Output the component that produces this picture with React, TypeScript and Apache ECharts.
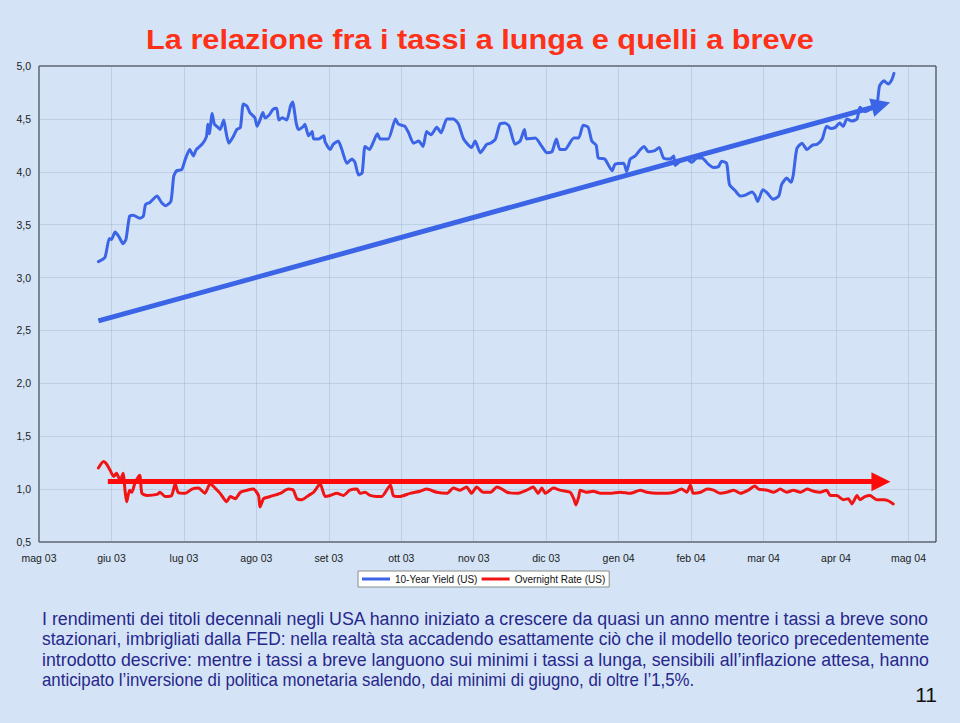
import React, { useEffect, useRef } from 'react';
import * as echarts from 'echarts';

// ---------- data (x = months since May 2003, y = %) ----------
const monthLabels = ['mag 03', 'giu 03', 'lug 03', 'ago 03', 'set 03', 'ott 03', 'nov 03', 'dic 03', 'gen 04', 'feb 04', 'mar 04', 'apr 04', 'mag 04'];

const seriesNames = ['10-Year Yield (US)', 'Overnight Rate (US)'];

const tenYearYield: [number, number][] = [
  [0.82, 3.15], [0.91, 3.19], [0.97, 3.37], [1.00, 3.36], [1.05, 3.43], [1.10, 3.39], [1.16, 3.32], [1.20, 3.36],
  [1.25, 3.58], [1.30, 3.59], [1.39, 3.56], [1.44, 3.58], [1.47, 3.69], [1.53, 3.71], [1.63, 3.77], [1.69, 3.71],
  [1.75, 3.68], [1.82, 3.72], [1.86, 3.96], [1.90, 4.01], [1.97, 4.02], [2.02, 4.12], [2.08, 4.21], [2.13, 4.15],
  [2.17, 4.21], [2.25, 4.26], [2.31, 4.33], [2.33, 4.45], [2.35, 4.36], [2.39, 4.55], [2.42, 4.45], [2.47, 4.42],
  [2.50, 4.40], [2.55, 4.49], [2.58, 4.38], [2.62, 4.27], [2.68, 4.33], [2.73, 4.40], [2.78, 4.42], [2.82, 4.64],
  [2.87, 4.62], [2.91, 4.56], [2.98, 4.51], [3.01, 4.43], [3.05, 4.49], [3.09, 4.56], [3.12, 4.51], [3.18, 4.54],
  [3.23, 4.59], [3.28, 4.60], [3.31, 4.49], [3.36, 4.51], [3.42, 4.49], [3.47, 4.62], [3.50, 4.66], [3.55, 4.46],
  [3.58, 4.40], [3.65, 4.43], [3.67, 4.45], [3.72, 4.34], [3.77, 4.38], [3.79, 4.31], [3.86, 4.31], [3.93, 4.34],
  [3.95, 4.28], [4.02, 4.21], [4.06, 4.26], [4.13, 4.29], [4.18, 4.21], [4.25, 4.08], [4.32, 4.12], [4.36, 4.09],
  [4.41, 3.97], [4.46, 3.99], [4.50, 4.24], [4.56, 4.21], [4.62, 4.29], [4.67, 4.36], [4.71, 4.31], [4.82, 4.31],
  [4.92, 4.50], [4.96, 4.45], [5.05, 4.43], [5.10, 4.37], [5.17, 4.27], [5.24, 4.29], [5.30, 4.24], [5.35, 4.38],
  [5.41, 4.35], [5.49, 4.42], [5.55, 4.37], [5.63, 4.50], [5.72, 4.50], [5.79, 4.45], [5.86, 4.31], [5.97, 4.23],
  [6.02, 4.29], [6.09, 4.18], [6.18, 4.26], [6.23, 4.27], [6.30, 4.31], [6.36, 4.45], [6.43, 4.46], [6.49, 4.43],
  [6.57, 4.26], [6.64, 4.29], [6.70, 4.40], [6.73, 4.31], [6.85, 4.32], [6.94, 4.24], [7.01, 4.18], [7.08, 4.19],
  [7.14, 4.31], [7.19, 4.21], [7.26, 4.21], [7.38, 4.32], [7.45, 4.32], [7.51, 4.44], [7.58, 4.42], [7.63, 4.29],
  [7.69, 4.25], [7.72, 4.13], [7.81, 4.12], [7.91, 4.01], [7.95, 4.07], [8.07, 4.08], [8.11, 4.00], [8.16, 4.12],
  [8.23, 4.15], [8.30, 4.21], [8.35, 4.24], [8.41, 4.19], [8.50, 4.20], [8.56, 4.23], [8.62, 4.13], [8.71, 4.12],
  [8.76, 4.15], [8.78, 4.06], [8.85, 4.10], [8.94, 4.12], [9.01, 4.09], [9.08, 4.13], [9.15, 4.13], [9.24, 4.07],
  [9.31, 4.04], [9.38, 4.05], [9.42, 4.10], [9.49, 4.08], [9.53, 3.88], [9.61, 3.82], [9.68, 3.77], [9.75, 3.78],
  [9.84, 3.81], [9.88, 3.78], [9.92, 3.72], [9.99, 3.83], [10.05, 3.80], [10.13, 3.74], [10.21, 3.77], [10.25, 3.88],
  [10.32, 3.94], [10.38, 3.90], [10.41, 3.97], [10.46, 4.22], [10.53, 4.27], [10.60, 4.21], [10.67, 4.25], [10.74, 4.26],
  [10.81, 4.31], [10.87, 4.43], [10.93, 4.41], [10.99, 4.42], [11.05, 4.46], [11.10, 4.43], [11.15, 4.50], [11.22, 4.48],
  [11.29, 4.50], [11.33, 4.61], [11.40, 4.57], [11.47, 4.59], [11.56, 4.62], [11.60, 4.81], [11.66, 4.86], [11.72, 4.83],
  [11.77, 4.87], [11.80, 4.93],
];

const overnightRate: [number, number][] = [
  [0.82, 1.20], [0.89, 1.26], [0.93, 1.24], [0.98, 1.18], [1.03, 1.12], [1.07, 1.15], [1.12, 1.08], [1.16, 1.15],
  [1.19, 0.97], [1.21, 0.88], [1.25, 0.99], [1.28, 0.97], [1.33, 1.07], [1.39, 1.13], [1.42, 0.96], [1.49, 0.94],
  [1.63, 0.95], [1.67, 0.97], [1.74, 0.93], [1.83, 0.94], [1.88, 1.05], [1.92, 0.97], [2.02, 0.96], [2.11, 1.00],
  [2.20, 1.01], [2.29, 0.96], [2.36, 1.05], [2.43, 1.01], [2.50, 0.96], [2.59, 0.88], [2.64, 0.93], [2.71, 0.91],
  [2.78, 0.97], [2.87, 0.99], [2.96, 1.00], [3.03, 0.94], [3.05, 0.83], [3.10, 0.91], [3.19, 0.93], [3.33, 0.96],
  [3.44, 1.00], [3.51, 0.99], [3.56, 0.91], [3.63, 0.90], [3.72, 0.94], [3.79, 0.97], [3.88, 1.05], [3.95, 0.93],
  [4.02, 0.94], [4.11, 0.96], [4.20, 0.94], [4.29, 0.99], [4.39, 1.00], [4.43, 0.96], [4.50, 0.97], [4.57, 0.94],
  [4.66, 0.93], [4.73, 0.93], [4.85, 1.04], [4.89, 0.94], [4.98, 0.93], [5.12, 0.96], [5.26, 0.98], [5.35, 1.00],
  [5.49, 0.97], [5.63, 0.96], [5.72, 1.01], [5.81, 0.99], [5.90, 1.02], [5.97, 0.96], [6.04, 1.02], [6.13, 0.97],
  [6.23, 0.97], [6.32, 1.02], [6.39, 1.00], [6.46, 0.97], [6.60, 0.96], [6.73, 0.99], [6.82, 1.02], [6.89, 0.96],
  [6.94, 1.01], [6.99, 0.96], [7.10, 1.01], [7.19, 0.99], [7.33, 0.97], [7.38, 0.91], [7.41, 0.85], [7.45, 0.93],
  [7.47, 0.99], [7.56, 0.97], [7.65, 0.98], [7.75, 0.96], [7.88, 0.96], [8.02, 0.97], [8.16, 0.96], [8.30, 0.99],
  [8.39, 0.97], [8.53, 0.96], [8.67, 0.96], [8.76, 0.97], [8.87, 1.00], [8.94, 0.97], [8.99, 1.04], [9.03, 0.96],
  [9.13, 0.97], [9.22, 1.00], [9.31, 0.99], [9.40, 0.96], [9.49, 0.97], [9.59, 0.99], [9.68, 0.96], [9.79, 0.99],
  [9.88, 1.03], [9.93, 1.00], [10.05, 0.99], [10.14, 0.97], [10.23, 1.00], [10.32, 0.97], [10.41, 0.99], [10.51, 0.97],
  [10.60, 1.00], [10.69, 0.98], [10.78, 0.97], [10.87, 0.99], [10.92, 0.94], [11.01, 0.94], [11.10, 0.90], [11.17, 0.91],
  [11.22, 0.86], [11.29, 0.94], [11.33, 0.90], [11.40, 0.93], [11.47, 0.94], [11.56, 0.90], [11.66, 0.90], [11.72, 0.89],
  [11.79, 0.86],
];

// trend arrows: [start, end] in data coordinates
const tenYearTrend: [number, number][] = [[0.82, 2.59], [11.62, 4.63]];
const overnightTrend: [number, number][] = [[0.95, 1.07], [11.62, 1.07]];

const titleText = 'La relazione fra i tassi a lunga e quelli a breve';
const noteLines = [
  'I rendimenti dei titoli decennali negli USA hanno iniziato a crescere da quasi un anno mentre i tassi a breve sono',
  'stazionari, imbrigliati dalla FED: nella realtà sta accadendo esattamente ciò che il modello teorico precedentemente',
  'introdotto descrive: mentre i tassi a breve languono sui minimi i tassi a lunga, sensibili all’inflazione attesa, hanno',
  'anticipato l’inversione di politica monetaria salendo, dai minimi di giugno, di oltre l’1,5%.',
];
const pageNumber = '11';

// ---------- styling ----------
const FONT = '"Liberation Sans", Arial, Helvetica, sans-serif';
const BLUE = '#3b64e6';
const RED = '#f01414';
const GRID = 'rgba(120,145,180,0.25)';

function measure(text: string, size: number, weight = 'normal') {
  const ctx = document.createElement('canvas').getContext('2d');
  if (!ctx) return text.length * size * 0.5;
  ctx.font = `${weight} ${size}px ${FONT}`;
  return ctx.measureText(text).width;
}

export default function App() {
  const ref = useRef<HTMLDivElement>(null);

  useEffect(() => {
    if (!ref.current) return;
    const chart = echarts.init(ref.current, undefined, { renderer: 'svg' });

    const titleSize = 28;
    const titleScale = 668 / measure(titleText, titleSize, 'bold');

    const noteSize = 19;
    const noteTargets = [888, 888, 888, 653];
    const noteMid = [618.5, 639.2, 659.5, 679.8];

    const graphics: any[] = [
      {
        type: 'text',
        x: 146,
        y: 39,
        scaleX: titleScale,
        style: {
          text: titleText,
          fontFamily: FONT,
          fontSize: titleSize,
          fontWeight: 'bold',
          fill: '#ff3018',
          textAlign: 'left',
          textVerticalAlign: 'middle',
          verticalAlign: 'middle',
        },
      },
      ...noteLines.map((line, i) => ({
        type: 'text',
        x: 42,
        y: noteMid[i],
        scaleX: noteTargets[i] / measure(line, noteSize),
        style: {
          text: line,
          fontFamily: FONT,
          fontSize: noteSize,
          fill: '#27278c',
          textAlign: 'left',
          textVerticalAlign: 'middle',
          verticalAlign: 'middle',
        },
      })),
      {
        type: 'text',
        x: 937,
        y: 694.5,
        style: {
          text: pageNumber,
          fontFamily: FONT,
          fontSize: 21,
          fill: '#111',
          textAlign: 'right',
          textVerticalAlign: 'middle',
          verticalAlign: 'middle',
        },
      },
    ];

    const axisLabelStyle = { fontFamily: FONT, fontSize: 10.5, color: '#222' };

    chart.setOption({
      animation: false,
      backgroundColor: '#d4e4f6',
      grid: {
        left: 39,
        top: 66,
        width: 897,
        height: 476,
        show: true,
        borderColor: '#222',
        borderWidth: 1,
        backgroundColor: 'transparent',
      },
      legend: {
        data: seriesNames,
        left: 358,
        top: 571,
        icon: 'rect',
        itemWidth: 28,
        itemHeight: 3,
        itemGap: 4,
        padding: [3, 4, 3, 4],
        backgroundColor: '#ffffff',
        borderColor: '#8a8a8a',
        borderWidth: 1,
        textStyle: { fontFamily: FONT, fontSize: 10, color: '#111' },
      },
      xAxis: {
        type: 'value',
        min: 0,
        max: 12.38,
        interval: 1,
        axisLine: { show: false },
        axisTick: { show: false },
        axisLabel: {
          ...axisLabelStyle,
          margin: 10,
          formatter: (v: number) => {
            const r = Math.round(v);
            return Math.abs(v - r) < 1e-6 ? monthLabels[r] ?? '' : '';
          },
        },
        splitLine: { show: true, lineStyle: { color: GRID, width: 1 } },
      },
      yAxis: {
        type: 'value',
        min: 0.5,
        max: 5,
        interval: 0.5,
        axisLine: { show: false },
        axisTick: { show: false },
        axisLabel: {
          ...axisLabelStyle,
          margin: 8,
          formatter: (v: number) => v.toFixed(1).replace('.', ','),
        },
        splitLine: { show: true, lineStyle: { color: GRID, width: 1 } },
      },
      series: [
        {
          name: seriesNames[0],
          type: 'line',
          data: tenYearYield,
          showSymbol: false,
          smooth: 0.2,
          color: BLUE,
          lineStyle: { color: BLUE, width: 3, cap: 'round', join: 'round' },
          z: 3,
          markLine: {
            silent: true,
            symbol: ['none', 'triangle'],
            symbolSize: 19,
            label: { show: false },
            lineStyle: { color: BLUE, width: 5, type: 'solid' },
            itemStyle: { color: BLUE },
            data: [[{ coord: tenYearTrend[0] }, { coord: tenYearTrend[1] }]],
          },
        },
        {
          name: seriesNames[1],
          type: 'line',
          data: overnightRate,
          showSymbol: false,
          smooth: 0.2,
          color: RED,
          lineStyle: { color: RED, width: 3, cap: 'round', join: 'round' },
          z: 3,
          markLine: {
            silent: true,
            symbol: ['none', 'triangle'],
            symbolSize: 19,
            label: { show: false },
            lineStyle: { color: '#ff0a0a', width: 5, type: 'solid' },
            itemStyle: { color: '#ff0a0a' },
            data: [[{ coord: overnightTrend[0] }, { coord: overnightTrend[1] }]],
          },
        },
      ],
      graphic: graphics,
    });

    return () => chart.dispose();
  }, []);

  return (
    <div
      style={{ position: 'fixed', left: 0, top: 0, width: 960, height: 723, background: '#d4e4f6' }}
    >
      <div ref={ref} style={{ width: 960, height: 723 }} />
    </div>
  );
}
